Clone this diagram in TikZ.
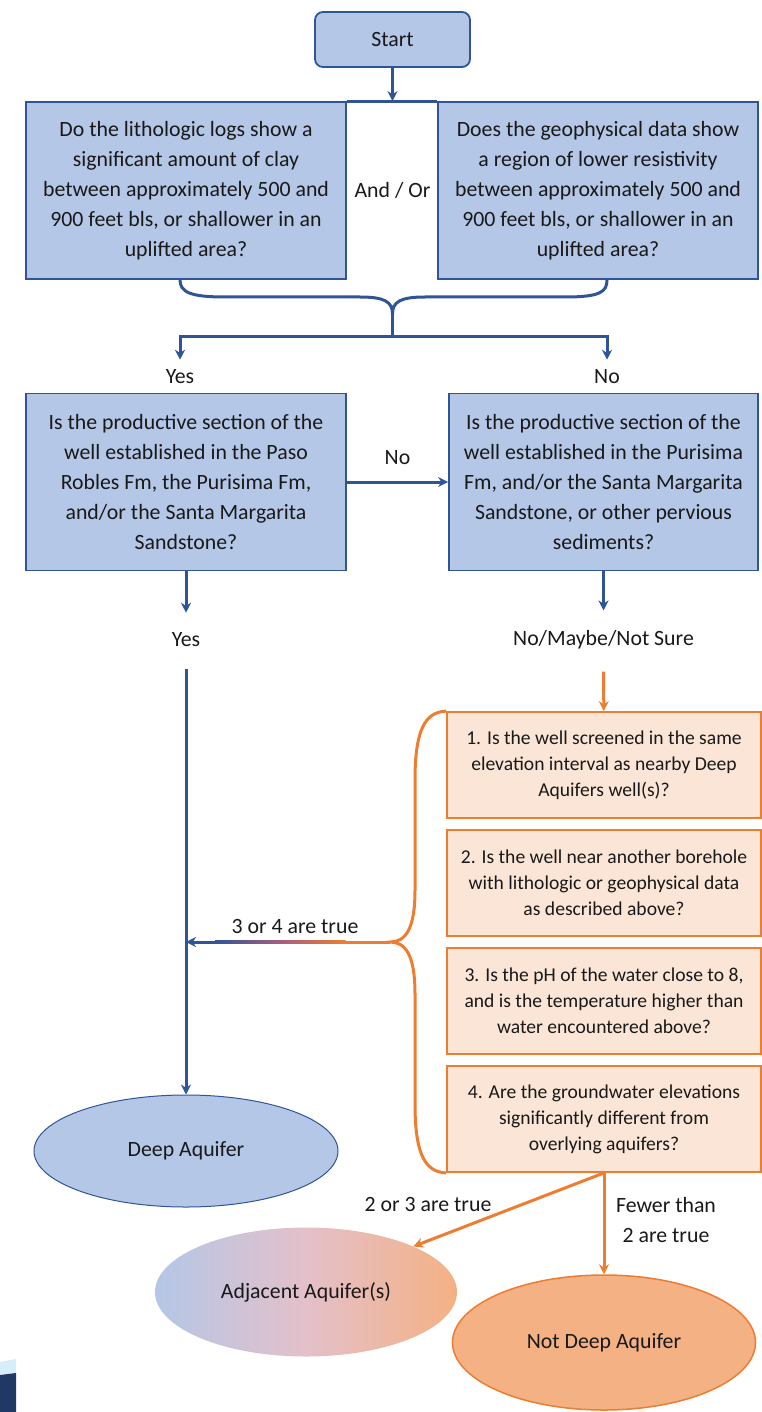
\documentclass[tikz,border=0pt]{standalone}
\usepackage{fontspec}
\setmainfont{Carlito}
\usetikzlibrary{
    arrows.meta, % for the arrow tips
    positioning, % for placing nodes relative to other nodes
    shapes.geometric % for the three end ellipses
}
\definecolor{qfill}{RGB}{180,199,231}
\definecolor{qline}{RGB}{47,85,151}
\definecolor{cfill}{RGB}{251,229,214}
\definecolor{cline}{RGB}{237,125,49}
\definecolor{nfill}{RGB}{244,177,131}
\definecolor{pinkmix}{RGB}{228,192,202}
\definecolor{mauve}{RGB}{165,95,125}
\definecolor{logolight}{RGB}{214,238,249}
\definecolor{logodark}{RGB}{31,56,100}

\begin{document}
\begin{tikzpicture}[
    x=1pt,y=-1pt,on grid,node distance=118pt,>={Stealth[length=10pt,width=10pt]},
    every node/.style  = {font=\fontsize{21.8}{30}\selectfont,text=black!90},
    question/.style    = {draw=qline,fill=qfill,line width=1.8pt,minimum width=320pt,minimum height=177pt,align=center,inner sep=0pt},
    check/.style       = {draw=cline,fill=cfill,line width=1.8pt,minimum width=314pt,minimum height=106pt,align=center,inner sep=0pt,font=\fontsize{19.6}{26}\selectfont},
    result/.style      = {ellipse,minimum width=304pt,minimum height=112pt,inner sep=0pt},
    flow/.style        = {->,draw=qline,line width=3pt},
    orange flow/.style = {->,draw=cline,line width=3pt},
    answer/.style      = {inner sep=2pt,align=center}
]
\useasboundingbox (0,0) rectangle (761,1412);

% questions at the top

    \node [question,rounded corners=8pt,minimum width=155pt,minimum height=55pt] (start) at (392.5,39.5) {Start};
    \node [question] (lith) [below left=151pt and 206.5pt of start]
        {Do the lithologic logs show a\\ significant amount of clay\\ between approximately 500 and\\ 900 feet bls, or shallower in an\\ uplifted area?};
    \node [question] (geo)  [right=412pt of lith]
        {Does the geophysical data show\\ a region of lower resistivity\\ between approximately 500 and\\ 900 feet bls, or shallower in an\\ uplifted area?};
    \node [answer] (andor) at (392.5,190) {And / Or};

    \coordinate (join)  at (start |- lith.north);
    \coordinate (lb)    at ([xshift=-6pt]lith.south);
    \coordinate (rb)    at ([xshift=9pt]geo.south);
    \coordinate (cusp)  at (392.5,314);
    \coordinate (split) at (392.5,336);

    \node [answer] (yes1) at (180,377) {Yes};
    \node [answer] (no1)  at (607,377) {No};

    \node [question] (paso) [below=291.5pt of lith]
        {Is the productive section of the\\ well established in the Paso\\ Robles Fm, the Purisima Fm,\\ and/or the Santa Margarita\\ Sandstone?};
    \node [question,minimum width=309pt] (puri) [right=417.5pt of paso]
        {Is the productive section of the\\ well established in the Purisima\\ Fm, and/or the Santa Margarita\\ Sandstone, or other pervious\\ sediments?};
    \node [answer] (no2) at (397.5,458) {No};

    \node [answer] (yes2)  [below=158pt of paso] {Yes};
    \node [answer] (maybe) [below=158pt of puri] {No/Maybe/Not Sure};

% the four checks

    \node [check] (c1) at (604,765)
        {1. Is the well screened in the same\\ elevation interval as nearby Deep\\ Aquifers well(s)?};
    \node [check] (c2) [below=of c1]
        {2. Is the well near another borehole\\ with lithologic or geophysical data\\ as described above?};
    \node [check] (c3) [below=of c2]
        {3. Is the pH of the water close to 8,\\ and is the temperature higher than\\ water encountered above?};
    \node [check] (c4) [below=of c3]
        {4. Are the groundwater elevations\\ significantly different from\\ overlying aquifers?};
    \coordinate (tip34) at (390,942);

% results

    \node [result,draw=qline,fill=qfill,line width=1pt] (deep) at (186,1151) {Deep Aquifer};
    \node [result,minimum width=302pt,minimum height=129pt,left color=qfill,right color=nfill,middle color=pinkmix] (adj) at (306,1292) {Adjacent Aquifer(s)};
    \node [result,minimum width=303pt,minimum height=135pt,draw=cline,fill=nfill,line width=1.5pt] (ndeep) at (604,1342.5) {Not Deep Aquifer};

    \node [answer] (tru34) at (295,926)  {3 or 4 are true};
    \node [answer] (tru23) at (428,1204) {2 or 3 are true};
    \node [answer] (fewer) at (666,1220) {Fewer than\\ 2 are true};

% connectors

    \draw [flow] (start) -- (join);
    \draw [qline,line width=3pt] (lith.north east) -- (geo.north west);
    \draw [qline,line width=3pt]
        (lb) .. controls (180,292) and (190,297) .. (225,297) -- (360,297)
             .. controls (385,297) and (392.5,302) .. (cusp)
             .. controls (392.5,302) and (400,297) .. (425,297) -- (565,297)
             .. controls (600,297) and (607,292) .. (rb);
    \draw [qline,line width=3pt] (cusp) -- (split);
    \draw [flow,shorten >=8pt] (split) -| (yes1);
    \draw [flow,shorten >=8pt] (split) -| (no1);

    \draw [flow] (paso) -- (puri);
    \draw [flow,shorten >=18pt] (paso) -- (yes2);
    \draw [flow,shorten >=18pt] (puri) -- (maybe);
    \draw [flow,shorten <=20pt] (yes2) -- (deep);
    \draw [orange flow,shorten <=20pt] (maybe) -- (c1);

    \draw [cline,line width=3pt]
        (c1.north west) .. controls (425,712) and (415,730) .. (415,780) -- (415,890)
             .. controls (415,930) and (405,942) .. (tip34)
             .. controls (405,942) and (415,954) .. (415,994) -- (415,1104)
             .. controls (415,1154) and (425,1172) .. (c4.south west);
    \draw [flow] (tip34) -- (tip34 -| deep);
    \draw [cline,line width=3pt] (tip34) -- (345,942);
    \shade [left color=qline,right color=cline,middle color=mauve] (215,940.5) rectangle (345.5,943.5);

    \draw [orange flow] (c4.south) -- (adj.23);
    \draw [orange flow] (c4.south) -- (ndeep);

% logo corner
    \fill [logolight] (0,1362) -- (16,1359) -- (16,1373) -- (0,1375) -- cycle;
    \fill [logodark]  (0,1375) -- (16,1373) -- (16,1412) -- (0,1412) -- cycle;

\end{tikzpicture}
\end{document}
